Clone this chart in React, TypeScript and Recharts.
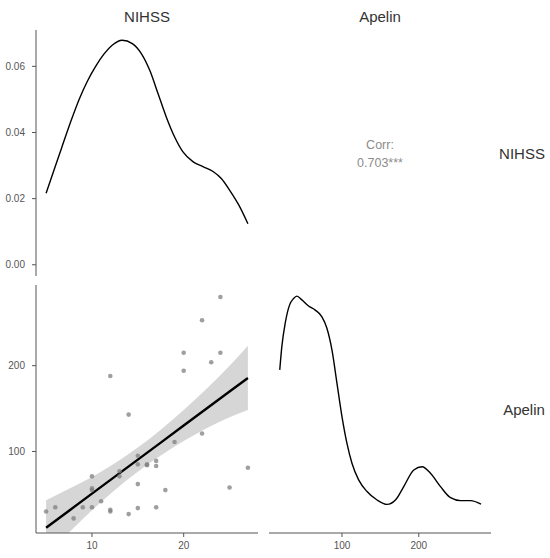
import { ComposedChart, LineChart, Line, Area, Scatter, XAxis, YAxis } from "recharts";

// axis ranges (data range + 5% like ggplot)
const NIHSS_DOMAIN = [3.9, 28.1];
const APELIN_DOMAIN = [5, 294];

const nihss = [5, 6, 8, 9, 10, 10, 10, 10, 11, 12, 12, 12, 13, 13, 14, 14, 15, 15, 15, 15, 16, 16, 17, 17, 17, 18, 19, 20, 20, 22, 22, 23, 24, 24, 25, 27];
const apelin = [30, 35, 22, 35, 71, 57, 55, 35, 42, 188, 32, 30, 77, 71, 143, 27, 95, 85, 62, 34, 85, 84, 89, 83, 35, 55, 111, 215, 194, 253, 121, 204, 280, 215, 58, 81];

// diagonal densities
const nihssGrid = [5, 5.8, 6.7, 7.7, 8.6, 9.5, 10.4, 11.3, 12.2, 13.3, 14.4, 15.4, 16.3, 17.2, 18.1, 19, 19.9, 21, 22.1, 23.2, 24.1, 25, 26, 27];
const nihssDensity = [0.0216, 0.0281, 0.0354, 0.0434, 0.05, 0.0555, 0.06, 0.0637, 0.0664, 0.0679, 0.0669, 0.0638, 0.0588, 0.0518, 0.0447, 0.0387, 0.0342, 0.0312, 0.0297, 0.0282, 0.0261, 0.0226, 0.0181, 0.0124];

const apelinGrid = [19, 21.7, 26.1, 31.7, 37, 41.3, 47.8, 56.5, 65.2, 73.9, 80.4, 87, 93.5, 100, 106.5, 113, 121.7, 132.6, 145.7, 158.7, 169.6, 180.4, 193.5, 204.3, 215.2, 228.3, 241.3, 254.3, 267.4, 281];
const apelinDensity = [0.00559, 0.00639, 0.00719, 0.00781, 0.00804, 0.00812, 0.00799, 0.00778, 0.00764, 0.00741, 0.00702, 0.00627, 0.00513, 0.00399, 0.00307, 0.00239, 0.00182, 0.00142, 0.00113, 0.00098, 0.00113, 0.00159, 0.00216, 0.00227, 0.00205, 0.00159, 0.00121, 0.00111, 0.00111, 0.00099];

// lm fit + 95% band
const fitX = [5, 7.5, 10, 12.5, 15, 17.5, 20, 22.5, 25, 27];
const fitY = [11.2, 31.0, 50.9, 70.7, 90.5, 110.3, 130.2, 150.0, 169.8, 185.7];
const fitLower = [-20.8, 5.5, 31.4, 55.2, 76.5, 95.3, 112.2, 127, 139.8, 148.2];
const fitUpper = [43.2, 56.5, 70.4, 86.2, 104.5, 125.3, 148.2, 173, 199.8, 223.2];

const nihssTicks = [10, 20];
const apelinTicks = [100, 200];
const densityTicks = [0, 0.02, 0.04, 0.06];
const corrLabel = "Corr:";
const corrValue = "0.703***";

const points = nihss.map((x, i) => ({ x, y: apelin[i] }));
const nihssDens = nihssGrid.map((x, i) => ({ x, y: nihssDensity[i] }));
const apelinDens = apelinGrid.map((x, i) => ({ x, y: apelinDensity[i] }));
const fit = fitX.map((x, i) => ({ x, fit: fitY[i], band: [fitLower[i], fitUpper[i]] }));

const FONT = '"Liberation Sans", Arial, sans-serif';
const AXIS = "#555555";
const tick = { fontSize: 10, fill: "#555555", fontFamily: FONT };

function Label({ x, y, text, size = 15, color = "#333333" }: { x: number; y: number; text: string; size?: number; color?: string }) {
  return (
    <div
      style={{
        position: "absolute",
        left: x,
        top: y,
        transform: "translate(-50%, -50%)",
        fontFamily: FONT,
        fontSize: size,
        lineHeight: 1,
        color,
        whiteSpace: "nowrap",
      }}
    >
      {text}
    </div>
  );
}

export default function App() {
  return (
    <div style={{ position: "absolute", left: 0, top: 0, width: 550, height: 558, background: "#fff" }}>
      {/* strip labels */}
      <Label x={147} y={15.5} text="NIHSS" />
      <Label x={380} y={15.5} text="Apelin" />
      <Label x={522} y={153} text="NIHSS" />
      <Label x={524} y={409} text="Apelin" />

      {/* upper right: correlation */}
      <Label x={380} y={144.5} text={corrLabel} size={12.5} color="#8c8c8c" />
      <Label x={380} y={162.5} text={corrValue} size={12.5} color="#8c8c8c" />

      {/* NIHSS density */}
      <div style={{ position: "absolute", left: 0, top: 20 }}>
        <LineChart width={270} height={256} data={nihssDens} margin={{ top: 10, right: 12, bottom: 0, left: 0 }}>
          <XAxis dataKey="x" type="number" domain={NIHSS_DOMAIN} hide allowDataOverflow />
          <YAxis
            type="number"
            domain={[-0.0034, 0.071]}
            ticks={densityTicks}
            tickFormatter={(v: number) => v.toFixed(2)}
            width={36}
            tick={tick}
            tickSize={4}
            tickMargin={7}
            axisLine={{ stroke: AXIS }}
            tickLine={{ stroke: AXIS }}
            allowDataOverflow
          />
          <Line dataKey="y" type="monotone" stroke="#000" strokeWidth={1.4} dot={false} isAnimationActive={false} />
        </LineChart>
      </div>

      {/* scatter + lm */}
      <div style={{ position: "absolute", left: 0, top: 275 }}>
        <ComposedChart width={270} height={283} margin={{ top: 10, right: 12, bottom: 0, left: 0 }}>
          <XAxis
            dataKey="x"
            type="number"
            domain={NIHSS_DOMAIN}
            ticks={nihssTicks}
            height={25}
            tick={tick}
            tickSize={4}
            tickMargin={5}
            axisLine={{ stroke: AXIS }}
            tickLine={{ stroke: AXIS }}
            allowDataOverflow
          />
          <YAxis
            type="number"
            domain={APELIN_DOMAIN}
            ticks={apelinTicks}
            width={36}
            tick={tick}
            tickSize={4}
            tickMargin={7}
            axisLine={{ stroke: AXIS }}
            tickLine={{ stroke: AXIS }}
            allowDataOverflow
          />
          <Scatter
            data={points}
            dataKey="y"
            isAnimationActive={false}
            shape={(p: any) => <circle cx={p.cx} cy={p.cy} r={2.3} fill="#7f7f7f" fillOpacity={0.75} />}
          />
          <Area data={fit} dataKey="band" type="monotone" stroke="none" fill="#999999" fillOpacity={0.4} isAnimationActive={false} />
          <Line data={fit} dataKey="fit" type="linear" stroke="#000" strokeWidth={2.4} dot={false} isAnimationActive={false} />
        </ComposedChart>
      </div>

      {/* Apelin density */}
      <div style={{ position: "absolute", left: 259, top: 275 }}>
        <LineChart width={240} height={283} data={apelinDens} margin={{ top: 10, right: 8, bottom: 0, left: 10 }}>
          <XAxis
            dataKey="x"
            type="number"
            domain={APELIN_DOMAIN}
            ticks={apelinTicks}
            height={25}
            tick={tick}
            tickSize={4}
            tickMargin={5}
            axisLine={{ stroke: AXIS }}
            tickLine={{ stroke: AXIS }}
            allowDataOverflow
          />
          <YAxis type="number" domain={[0, 0.0085]} hide allowDataOverflow />
          <Line dataKey="y" type="monotone" stroke="#000" strokeWidth={1.4} dot={false} isAnimationActive={false} />
        </LineChart>
      </div>
    </div>
  );
}
